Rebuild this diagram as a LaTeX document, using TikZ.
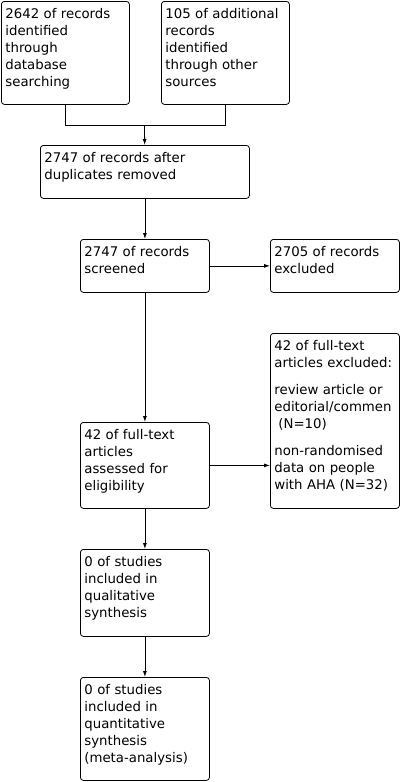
\documentclass[tikz,border=0pt]{standalone}
\usepackage{fontspec}
\setmainfont{DejaVu Sans}
\usetikzlibrary{arrows.meta}

\begin{document}
\begin{tikzpicture}[
    x = 1pt,
    y = -1pt,
    line width = 0.8pt,
    >={Latex[length=6pt,width=4pt]},
    box/.style = {
      draw,
      fill = white,
      rounded corners = 3pt,
      anchor = north west,
      align = left,
      inner xsep = 4pt,
      inner ysep = 0pt,
      font = \fontsize{13.3}{17}\selectfont,
      text height = 17pt
    }
  ]
  \useasboundingbox (0,0) rectangle (402,782);

  % identification
  \node[box, text width=120pt, text depth=86pt] (db) at (1,1)
    {2642 of records\\identified\\through\\database\\searching};
  \node[box, text width=120pt, text depth=86pt] (other) at (161,1)
    {105 of additional\\records\\identified\\through other\\sources};
  \node[box, text width=201pt, text depth=36pt] (dup) at (40,145)
    {2747 of records after\\duplicates removed};

  % screening
  \node[box, text width=121pt, text depth=36pt] (screen) at (80,239)
    {2747 of records\\screened};
  \node[box, text width=121pt, text depth=36pt] (excl) at (270,239)
    {2705 of records\\excluded};

  % eligibility
  \node[box, text width=121pt, text depth=69pt] (full) at (80,422)
    {42 of full-text\\articles\\assessed for\\eligibility};
  \node[box, text width=121pt, text depth=158pt] (ftexcl) at (270,333)
    {42 of full-text\\articles excluded:\\[10pt]review article or\\editorial/commen\\\hspace*{4pt}(N=10)\\[10pt]non-randomised\\data on people\\with AHA (N=32)};

  % included
  \node[box, text width=121pt, text depth=70pt] (qual) at (80,549)
    {0 of studies\\included in\\qualitative\\synthesis};
  \node[box, text width=121pt, text depth=86pt] (quant) at (80,677)
    {0 of studies\\included in\\quantitative\\synthesis\\(meta-analysis)};

  \coordinate (merge) at (144.5,125);

  \draw (db.south) -- (db.south |- merge) -- (other.south |- merge) -- (other.south);
  \draw[->] (merge) -- (dup);
  \draw[->] (dup) -- (screen);
  \draw[->] (screen) -- (excl);
  \draw[->] (screen) -- (full);
  \draw[->] (full.east) -- (full.east -| ftexcl.west);
  \draw[->] (full) -- (qual);
  \draw[->] (qual) -- (quant);
\end{tikzpicture}
\end{document}
